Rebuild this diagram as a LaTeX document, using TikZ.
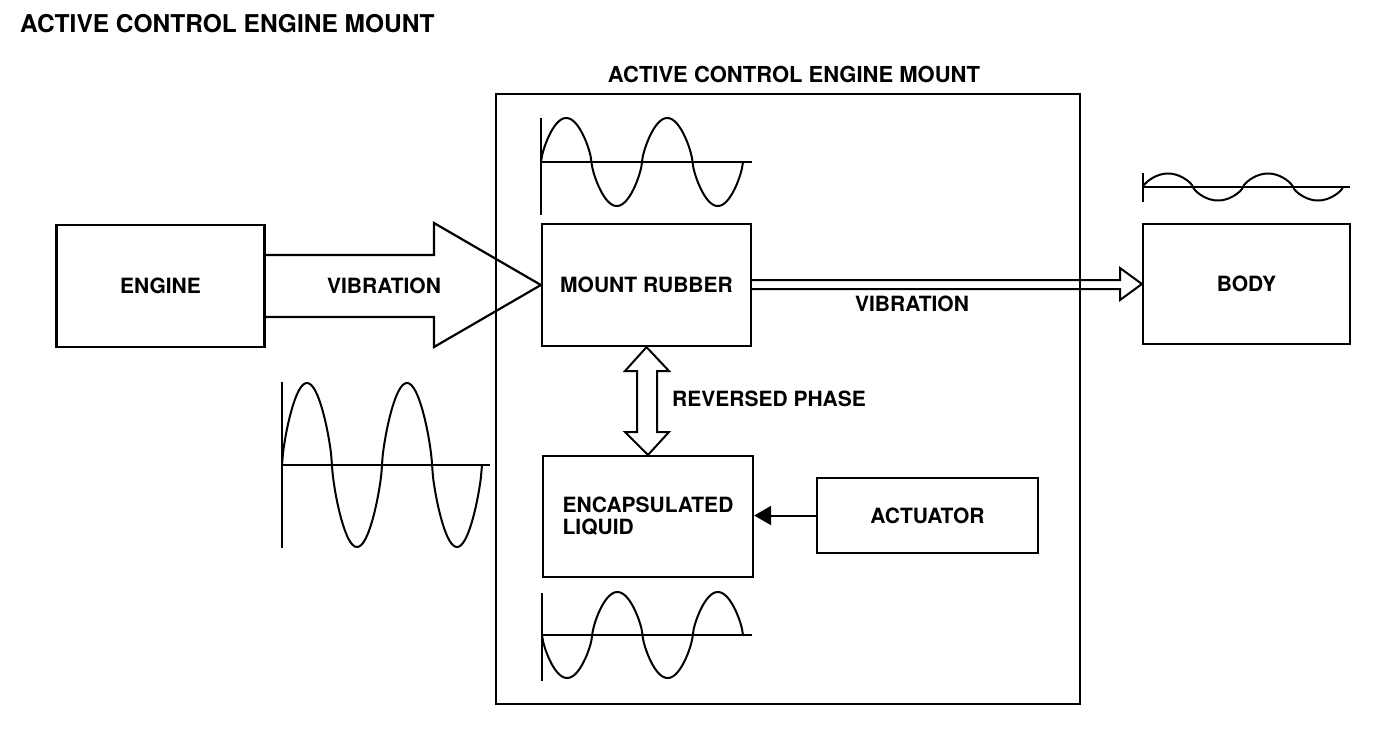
\documentclass[tikz,border=0pt]{standalone}
\usepackage{fontspec}
\setmainfont{TeX Gyre Heros}
\usetikzlibrary{arrows.meta}

\newcommand{\lblfont}{\fontsize{21}{22}\selectfont\bfseries}
\newcommand{\ttlfont}{\fontsize{24.5}{26}\selectfont\bfseries}

\tikzset{
  box/.style={draw, line width=2.2pt, inner sep=0pt, font=\lblfont},
  wave/.style={line width=2pt},
  label/.style={font=\lblfont, inner sep=0pt},
}

\begin{document}
\begin{tikzpicture}[x=1pt,y=-1pt]
  \useasboundingbox (0,0) rectangle (1392,732);

  \node[label, font=\ttlfont, anchor=west] (title) at (20,24) {ACTIVE CONTROL ENGINE MOUNT};

  % outer mount frame
  \node[box, minimum width=584pt, minimum height=610pt] (mount) at (788,399) {};
  \node[label, font=\fontsize{22}{24}\selectfont\bfseries] (mounttitle) at (794,74) {ACTIVE CONTROL ENGINE MOUNT};

  % blocks
  \node[box, minimum width=208pt, minimum height=122pt] (engine) at (160.5,286) {ENGINE};
  \node[box, minimum width=209pt, minimum height=122pt] (rubber) at (646.5,285) {MOUNT RUBBER};
  \node[box, minimum width=210pt, minimum height=121pt, align=left] (liquid) at (648,516.5) {ENCAPSULATED\\LIQUID};
  \node[box, minimum width=221pt, minimum height=75pt] (actuator) at (927.5,515.5) {ACTUATOR};
  \node[box, minimum width=207pt, minimum height=120pt] (body) at (1246.5,284) {BODY};

  % big vibration arrow engine -> rubber
  \draw[line width=2.2pt, line join=miter]
    (engine.east |- 0,255) -- (434,255) -- (434,223) -- (rubber.west)
    -- (434,347) -- (434,317) -- (engine.east |- 0,317);
  \node[label] (vib1) at (384,286) {VIBRATION};

  % thin hollow arrow rubber -> body
  \draw[line width=2pt, line join=miter]
    (rubber.east |- 0,280) -- (1120,280) -- (1120,268) -- (body.west)
    -- (1120,300) -- (1120,289) -- (rubber.east |- 0,289);
  \node[label] (vib2) at (912,304) {VIBRATION};

  % reversed phase double arrow
  \draw[line width=2pt, line join=miter]
    (rubber.south) -- (669,371) -- (657,371) -- (657,432) -- (669,432)
    -- (liquid.north) -- (625,432) -- (637,432) -- (637,371) -- (625,371) -- cycle;
  \node[label, anchor=west] (phase) at (672,399) {REVERSED PHASE};

  % actuator -> liquid
  \draw[line width=2pt, -{Triangle[length=17pt,width=19pt]}]
    (actuator.west) -- (actuator.west -| liquid.east);

  % waves (rounded crests)
  \begin{scope}[shift={(282,465)}]
    \draw[wave] (0,-83) -- (0,83) (0,0) -- (208,0);
    \draw[wave] plot[domain=0:200, samples=160, smooth]
      ({\x}, {-82*sin(\x*3.6)/(abs(sin(\x*3.6))+0.0001)^0.3});
  \end{scope}

  \begin{scope}[shift={(541,162)}]
    \draw[wave] (0,-44) -- (0,53) (0,0) -- (211,0);
    \draw[wave] plot[domain=0:202, samples=160, smooth]
      ({\x}, {-44*sin(\x*3.5644)/(abs(sin(\x*3.5644))+0.0001)^0.3});
  \end{scope}

  \begin{scope}[shift={(542,635)}]
    \draw[wave] (0,-42) -- (0,46) (0,0) -- (210,0);
    \draw[wave] plot[domain=0:201, samples=160, smooth]
      ({\x}, {43*sin(\x*3.5821)/(abs(sin(\x*3.5821))+0.0001)^0.3});
  \end{scope}

  \begin{scope}[shift={(1143,187)}]
    \draw[wave] (0,-14) -- (0,15) (0,0) -- (207,0);
    \draw[wave] plot[domain=0:200, samples=120, smooth]
      ({\x}, {-13.5*sin(\x*3.6)/(abs(sin(\x*3.6))+0.0001)^0.3});
  \end{scope}
\end{tikzpicture}
\end{document}
